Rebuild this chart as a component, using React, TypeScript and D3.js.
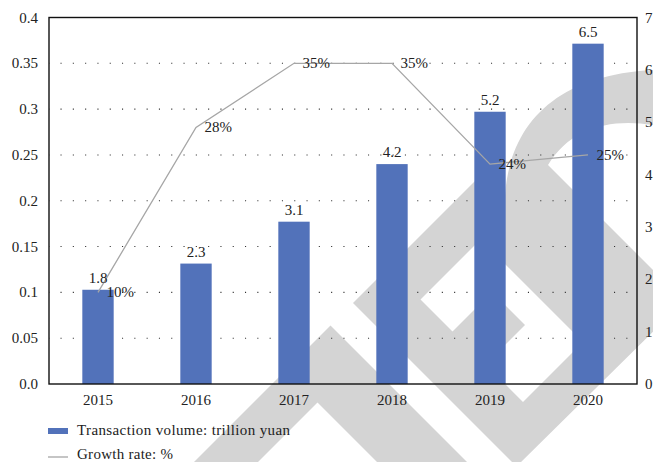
import React from "react";
import * as d3 from "d3";

const years = ["2015", "2016", "2017", "2018", "2019", "2020"];
const volume = [1.8, 2.3, 3.1, 4.2, 5.2, 6.5];
const growth = [0.1, 0.28, 0.35, 0.35, 0.24, 0.25];
const growthLabels = ["10%", "28%", "35%", "35%", "24%", "25%"];
const leftTicks = [0, 0.05, 0.1, 0.15, 0.2, 0.25, 0.3, 0.35, 0.4];
const leftTickLabels = ["0.0", "0.05", "0.1", "0.15", "0.2", "0.25", "0.3", "0.35", "0.4"];
const rightTicks = [0, 1, 2, 3, 4, 5, 6, 7];
const legendNames = ["Transaction volume: trillion yuan", "Growth rate: %"];

const W = 653;
const H = 462;
const L = 49, R = 637, T = 17.5, B = 384;
const FONT = "Liberation Serif";
const BLUE = "#5272ba";
const GRAY = "#a6a6a6";
const WM = "#d4d4d4";

// background watermark (decorative)
const watermark = [
  "M353,303 L483,173 L505,195 C510,125 555,75 653,70 L653,125 C610,118 570,128 548,165 L684,301 L516.5,466.5 Z M420.5,299.5 L480.5,239.5 L583,342 L523,402 L485.5,364.5 L525,325 L492,292 L452.5,331.5 Z",
  "M330.5,325.5 L178,478 L210,510 L317.5,402.5 L507.5,592.5 L552.5,547.5 Z",
];

const txt = { fontFamily: FONT, fontSize: "15px" } as React.CSSProperties;

export default function App() {
  const x = d3.scaleBand<string>().domain(years).range([L, R]).paddingInner(0.68).paddingOuter(0.34);
  const yL = d3.scaleLinear().domain([0, 0.4]).range([B, T]);
  const yR = d3.scaleLinear().domain([0, 7]).range([B, T]);
  const cx = (d: string) => (x(d) as number) + x.bandwidth() / 2;
  const line = d3
    .line<number>()
    .x((_, i) => cx(years[i]))
    .y((d) => yL(d));

  return (
    <svg width={W} height={H} style={{ position: "absolute", left: 0, top: 0, background: "#fff", fontFamily: FONT }}>
      <rect x={0} y={0} width={W} height={H} fill="#fff" />
      {watermark.map((d, i) => (
        <path key={i} d={d} fill={WM} fillRule="evenodd" />
      ))}
      {leftTicks.slice(1, -1).map((t) => (
        <line key={t} x1={L} x2={R} y1={yL(t)} y2={yL(t)} stroke="#333" strokeWidth={1.1} strokeDasharray="1.1 11.2" strokeDashoffset={-11.5} />
      ))}
      {volume.map((v, i) => (
        <rect key={i} x={x(years[i])} y={yR(v)} width={x.bandwidth()} height={B - yR(v)} fill={BLUE} />
      ))}
      <path d={line(growth) || ""} fill="none" stroke={GRAY} strokeWidth={1.3} />
      <rect x={L} y={T} width={R - L} height={B - T} fill="none" stroke="#111" strokeWidth={1.4} />
      {volume.map((v, i) => (
        <text key={i} x={cx(years[i])} y={yR(v) - 7} textAnchor="middle" style={txt} fill="#222">
          {v.toFixed(1)}
        </text>
      ))}
      {growth.map((g, i) => (
        <text key={i} x={cx(years[i]) + 8.5} y={yL(g) + 5} style={txt} fill="#222">
          {growthLabels[i]}
        </text>
      ))}
      {leftTicks.map((t, i) => (
        <text key={t} x={38} y={yL(t) + 5} textAnchor="end" style={txt} fill="#222">
          {leftTickLabels[i]}
        </text>
      ))}
      {rightTicks.map((t) => (
        <text key={t} x={645} y={yR(t) + 5} style={txt} fill="#222">
          {t}
        </text>
      ))}
      {years.map((yv) => (
        <text key={yv} x={cx(yv)} y={405} textAnchor="middle" style={txt} fill="#222">
          {yv}
        </text>
      ))}
      <rect x={48} y={428} width={20} height={6} fill={BLUE} />
      <text x={77} y={435} style={txt} fill="#222" textLength={213} lengthAdjust="spacing">{legendNames[0]}</text>
      <line x1={48} x2={68} y1={457} y2={457} stroke={GRAY} strokeWidth={1.3} />
      <text x={77} y={459} style={txt} fill="#222" textLength={96} lengthAdjust="spacing">{legendNames[1]}</text>
    </svg>
  );
}
